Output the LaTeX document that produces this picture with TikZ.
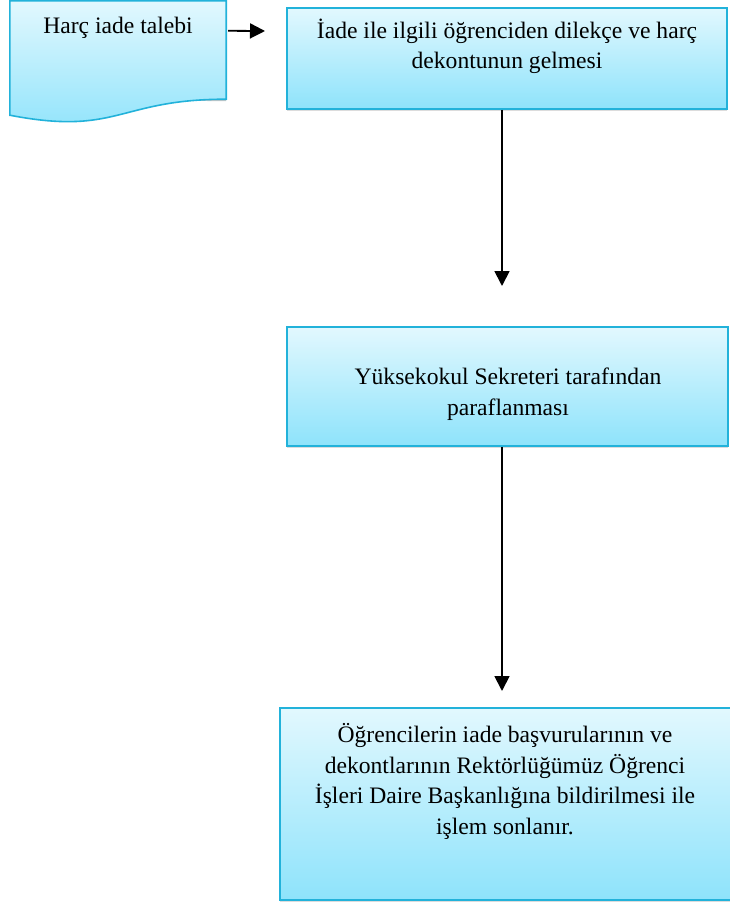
\documentclass[tikz,border=0pt]{standalone}
\usepackage{fontspec}
\setmainfont{Liberation Serif}
\usetikzlibrary{arrows.meta,shadows}
\definecolor{boxtop}{HTML}{E2F8FE}
\definecolor{boxbot}{HTML}{8EE3FB}
\definecolor{boxline}{HTML}{22B2DA}
\tikzset{
  x=1pt, y=-1pt,
  flowbox/.style={draw=boxline, line width=1.6pt, top color=boxtop, bottom color=boxbot,
    rectangle, inner sep=0pt,
    drop shadow={opacity=0.28, shadow xshift=0pt, shadow yshift=-2pt}},
  txt/.style={align=center, font=\fontsize{23.6}{30.5}\selectfont, inner sep=0pt, anchor=base},
  arr/.style={line width=1.8pt, -{Triangle[length=15pt,width=15pt]}},
  ghost/.style={rectangle, inner sep=0pt}
}
\begin{document}
\begin{tikzpicture}
\useasboundingbox (0,0) rectangle (729,905);

% document shape with wavy bottom
\node[ghost, minimum width=216pt, minimum height=98pt] (doc) at (118,50) {};
\fill[black, opacity=0.22] ([yshift=-2pt]doc.north west) -- ([yshift=-2pt]doc.north east)
  -- ([yshift=-2pt]doc.south east) .. controls +(-108,0) and +(0,-37) .. ([yshift=-18pt]doc.south west) -- cycle;
\path[draw=boxline, line width=1.6pt, top color=boxtop, bottom color=boxbot]
  (doc.north west) -- (doc.north east) -- (doc.south east)
  .. controls ([xshift=-108pt]doc.south east) and ([yshift=-37pt]doc.south) .. ([yshift=-16pt]doc.south west) -- cycle;
\node[txt] (t0) at (118,33) {Harç iade talebi};

% process boxes (text nodes are placed by the baseline of their last line)
\node[flowbox, minimum width=440pt, minimum height=101pt] (b1) at (507,58.5) {};
\node[txt] (t1) at (507,68.5) {İade ile ilgili öğrenciden dilekçe ve harç\\dekontunun gelmesi};

\node[flowbox, minimum width=441pt, minimum height=119pt] (b2) at (507.5,386.5) {};
\node[txt] (t2) at (508,415) {Yüksekokul Sekreteri tarafından\\paraflanması};

\node[flowbox, minimum width=460pt, minimum height=192pt] (b3) at (510,804) {};
\node[txt] (t3) at (505,834) {Öğrencilerin iade başvurularının ve\\dekontlarının Rektörlüğümüz Öğrenci\\İşleri Daire Başkanlığına bildirilmesi ile\\işlem sonlanır.};

% connectors
\coordinate (e1) at (265,31);
\coordinate (e2) at (502,286);
\coordinate (e3) at (502,691);
\draw[arr] ([xshift=2pt,yshift=-30pt]doc.north east) -- (e1);
\draw[arr] ([xshift=-5pt]b1.south) -- (e2);
\draw[arr] ([xshift=-5.5pt]b2.south) -- (e3);
\end{tikzpicture}
\end{document}
